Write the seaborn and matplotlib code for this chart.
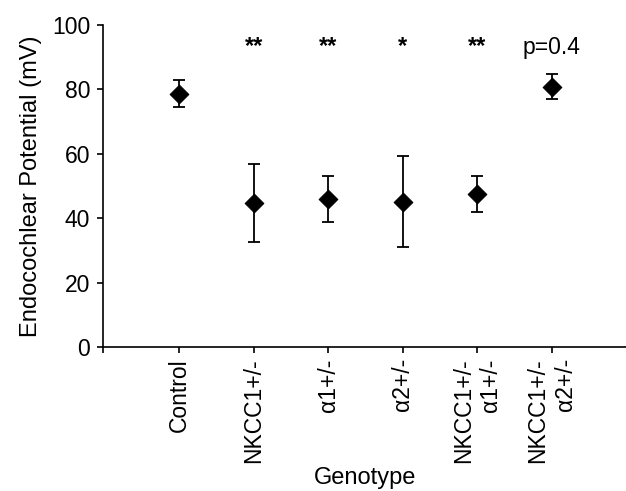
import matplotlib
matplotlib.use("Agg")
import matplotlib.pyplot as plt
import seaborn as sns
import pandas as pd

genotypes = ["Control", "NKCC1+/-", "α1+/-", "α2+/-", "NKCC1+/-\nα1+/-", "NKCC1+/-\nα2+/-"]
means = [78.7, 44.8, 45.9, 45.2, 47.6, 80.9]
errors = [4.3, 12.1, 7.1, 14.2, 5.6, 3.8]
annotations = ["", "**", "**", "*", "**", "p=0.4"]

df = pd.DataFrame({"Genotype": genotypes, "EP": means})

sns.set_style("ticks")
plt.rcParams["font.family"] = ["Liberation Sans", "DejaVu Sans"]
plt.rcParams["text.color"] = "black"
plt.rcParams["axes.labelcolor"] = "black"

fig = plt.figure(figsize=(6.26, 4.91), dpi=100)
ax = fig.add_axes([0.165, 0.293, 0.835, 0.656])

sns.scatterplot(data=df, x="Genotype", y="EP", marker="D", s=90, color="black",
                edgecolor="black", zorder=3, ax=ax, legend=False)
ax.errorbar(range(len(genotypes)), means, yerr=errors, fmt="none", ecolor="black",
            elinewidth=1.3, capsize=4, capthick=1.3, zorder=2)

for i, txt in enumerate(annotations):
    if txt.startswith("p"):
        ax.text(i, 93.0, txt, ha="center", va="center", fontsize=16.5, color="black")
    elif txt:
        ax.text(i, 93.3, txt, ha="center", va="center", fontsize=17, fontweight="bold",
                color="black")

ax.set_xlim(-1.02, 6.0)
ax.set_ylim(0, 100)
ax.set_yticks([0, 20, 40, 60, 80, 100])
ax.set_xticks(range(len(genotypes)))
ax.set_xticklabels(genotypes, rotation=90, ha="center", va="top", multialignment="right",
                   linespacing=1.25)
ax.tick_params(axis="both", labelsize=16.5, length=4.5, width=1.2, color="black", labelcolor="black")
ax.tick_params(axis="y", pad=5)
ax.set_xticks([-1.02], minor=True)
ax.tick_params(axis="x", which="minor", length=4.5, width=1.2, color="black")
for s in ["left", "bottom"]:
    ax.spines[s].set_linewidth(1.2)
    ax.spines[s].set_color("black")
sns.despine(ax=ax)
ax.set_xlabel("Genotype", fontsize=17, labelpad=3)
ax.set_ylabel("Endocochlear Potential (mV)", fontsize=17, labelpad=7)

fig.savefig("out.png", dpi=100)
